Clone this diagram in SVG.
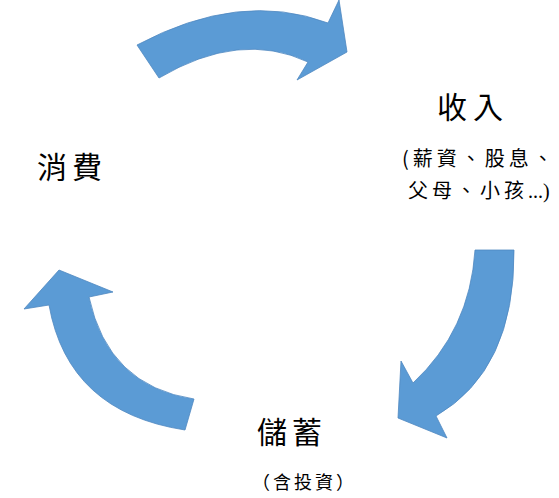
<svg xmlns="http://www.w3.org/2000/svg" width="559" height="498" viewBox="0 0 559 498">
<style>
.arrow{fill:#5B9BD5;stroke:#4F88C0;stroke-width:0.8;stroke-linejoin:miter}
.big{font-family:"Noto Sans CJK TC","Noto Sans CJK SC",sans-serif;font-size:30px;fill:#000;letter-spacing:6px}
.small{font-family:"Noto Sans CJK TC","Noto Sans CJK SC",sans-serif;font-size:20px;fill:#000;letter-spacing:4px}
.sub{font-family:"Noto Sans CJK TC","Noto Sans CJK SC",sans-serif;font-size:18px;fill:#000;letter-spacing:3px}
.dots{font-family:"Liberation Serif",serif;letter-spacing:0px}
</style>
<rect width="559" height="498" fill="#ffffff"/>
<g id="connectors">
<path id="arrow-top" class="arrow" d="M137,45 Q240,-10 328,23 L339,0 L347,52 L297,80 L308,62 Q240,30 159,78 Z"/>
<path id="arrow-right" class="arrow" d="M475,250 L514,250 Q515,370 436,416 L447,438 L398,418 L401,361 L413,383 Q470,330 475,250 Z"/>
<path id="arrow-left" class="arrow" d="M194,399 L185,430 Q68,412 49,305 L24,309 L59,270 L113,292 L89,297 Q108,386 194,399 Z"/>
</g>
<g id="node-income">
<text class="big" x="437" y="118">收入</text>
<text class="small" x="402" y="166">(薪資、股息、</text>
<text class="small" x="408" y="198">父母、小孩<tspan class="dots">...)</tspan></text>
</g>
<g id="node-consume">
<text class="big" x="37" y="178" style="letter-spacing:5px">消費</text>
</g>
<g id="node-saving">
<text class="big" x="257" y="443" style="letter-spacing:5px">儲蓄</text>
<text class="sub" x="252" y="489">（含投資）</text>
</g>
</svg>
